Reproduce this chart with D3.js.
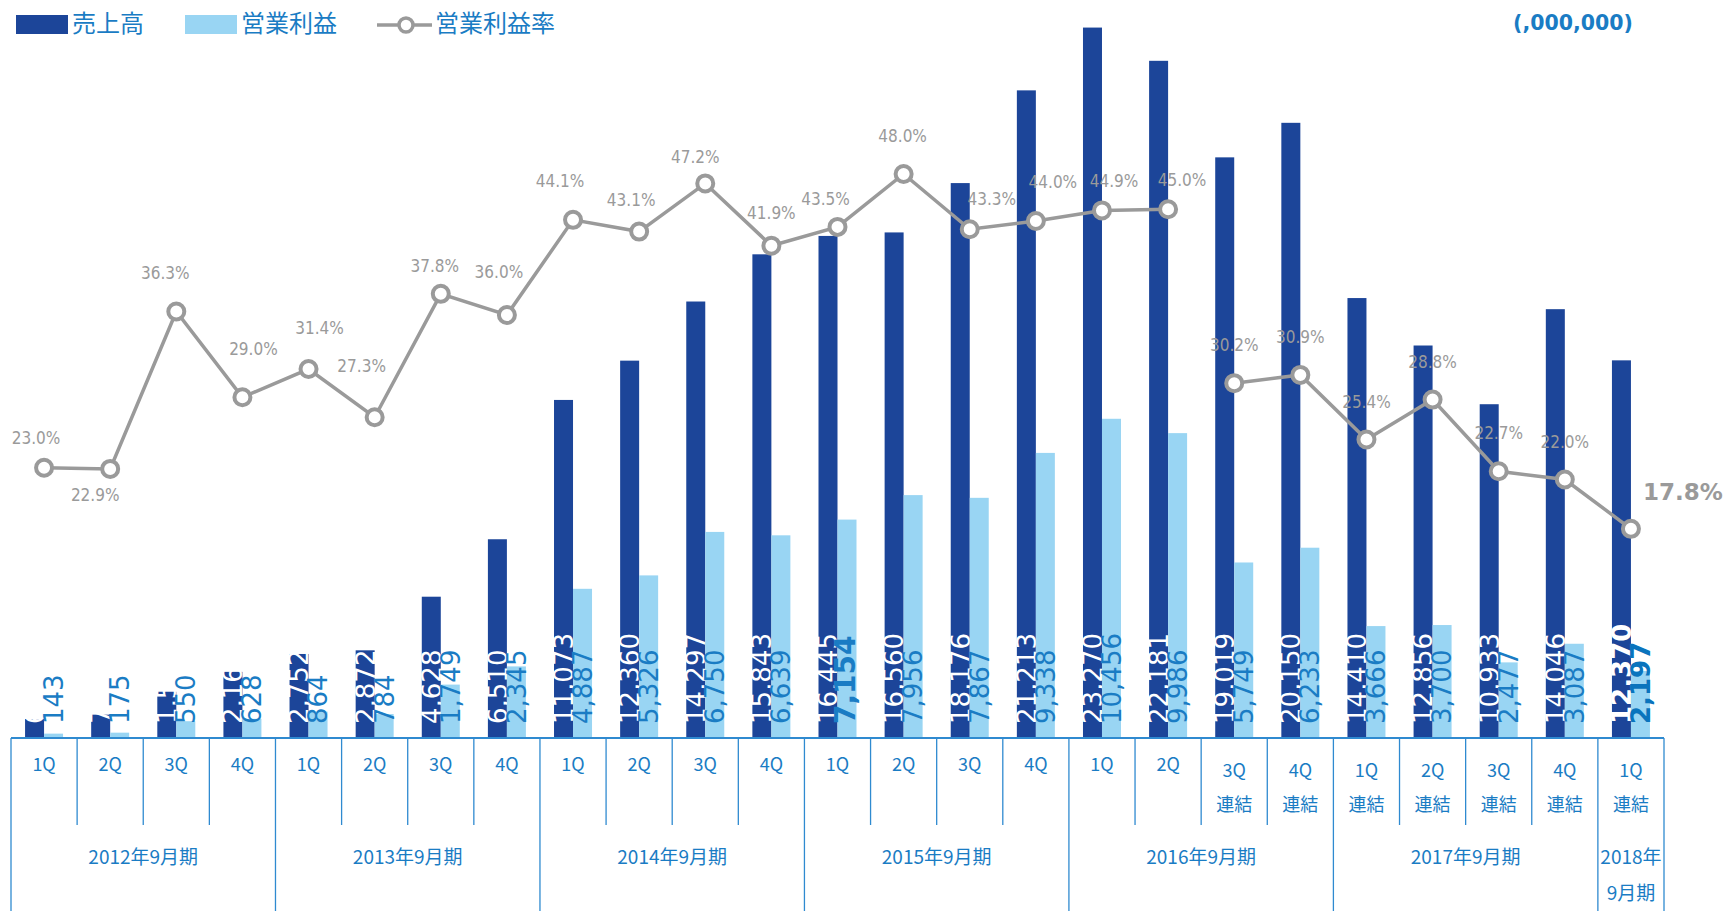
<!DOCTYPE html>
<html>
<head>
<meta charset="utf-8">
<script src="https://cdn.jsdelivr.net/npm/d3@7"></script>
<style>
  body { margin: 0; background: #fff; }
  svg { display: block; }
</style>
</head>
<body>
<svg id="chart" width="1727" height="911"></svg>
<script>
// quarter labels along the bottom
const quarters = ["1Q","2Q","3Q","4Q","1Q","2Q","3Q","4Q","1Q","2Q","3Q","4Q",
  "1Q","2Q","3Q","4Q","1Q","2Q","3Q","4Q","1Q","2Q","3Q","4Q","1Q"];
// 1 = consolidated figures (連結)
const consolidated = [0,0,0,0,0,0,0,0,0,0,0,0,0,0,0,0,0,0,1,1,1,1,1,1,1];
// fiscal year groups and how many quarters each one holds
const fiscalYears = ["2012年9月期","2013年9月期","2014年9月期","2015年9月期","2016年9月期","2017年9月期","2018年9月期"];
const yearSpans = [4,4,4,4,4,4,1];

// 売上高 (sales), 営業利益 (operating profit), 営業利益率 (%)
const sales = [622,764,1515,2166,2752,2872,4628,6510,11073,12360,14297,15843,
  16445,16560,18176,21213,23270,22181,19019,20150,14410,12856,10933,14046,12370];
const profit = [143,175,550,628,864,784,1749,2345,4887,5326,6750,6639,
  7154,7956,7867,9338,10456,9986,5749,6233,3666,3700,2477,3087,2197];
const marginRate = [23.0,22.9,36.3,29.0,31.4,27.3,37.8,36.0,44.1,43.1,47.2,41.9,
  43.5,48.0,43.3,44.0,44.9,45.0,30.2,30.9,25.4,28.8,22.7,22.0,17.8];

// label nudges for the % labels (dx, dy from the marker)
const rateLabelNudge = [[-8,-29],[-15,27],[-11,-37],[11,-47],[11,-40],[-13,-50],[-6,-27],[-8,-42],
  [-13,-38],[-8,-31],[-10,-25],[0,-32],[-12,-27],[-1,-37],[22,-29],[17,-38],[12,-28],[14,-28],
  [0,-37],[0,-37],[0,-37],[0,-37],[0,-37],[0,-37],[52,-35]];
// bar labels that are bold in the original
const boldSales = [24];
const boldProfit = [12, 24];

const DARK = "#1c4599", LIGHT = "#99d5f3", GREY = "#9a9a9a", BLUE = "#1a7cc4";
const JP = "'Noto Sans CJK JP', sans-serif";
const NUM = "'DejaVu Sans', sans-serif";

const svg = d3.select("#chart");
const baseY = 738, left = 11, right = 1664;

let x = d3.scaleBand().domain(d3.range(quarters.length)).range([left, right]).padding(0);
let bw = x.bandwidth();
let cx = i => x(i) + bw / 2;
let barW = 19;

let yBar = d3.scaleLinear().domain([0, 24000]).range([baseY, baseY - 24000 * 0.03053]);
let yRate = d3.scaleLinear().domain([0, 60]).range([baseY, baseY - 60 * 11.75]);

let fmt = d3.format(",");

// dark bars (sales)
svg.append("g").selectAll("rect")
  .data(sales)
  .enter().append("rect")
  .attr("x", (d, i) => cx(i) - barW)
  .attr("y", d => yBar(d))
  .attr("width", barW)
  .attr("height", d => baseY - yBar(d))
  .attr("fill", DARK);

// white labels for sales
svg.append("g").selectAll("text")
  .data(sales)
  .enter().append("text")
  .attr("transform", (d, i) => "translate(" + (cx(i) - barW / 2) + "," + (baseY - 14) + ") rotate(-90)")
  .attr("dy", "0.36em")
  .attr("font-family", NUM)
  .attr("font-size", 26)
  .attr("font-weight", (d, i) => boldSales.includes(i) ? "bold" : "normal")
  .attr("fill", "#fff")
  .text(d => fmt(d));

// light bars (profit) drawn over the overflow of the white labels
svg.append("g").selectAll("rect")
  .data(profit)
  .enter().append("rect")
  .attr("x", (d, i) => cx(i))
  .attr("y", d => yBar(d))
  .attr("width", barW)
  .attr("height", d => baseY - yBar(d))
  .attr("fill", LIGHT);

svg.append("g").selectAll("text")
  .data(profit)
  .enter().append("text")
  .attr("transform", (d, i) => "translate(" + (cx(i) + barW / 2 - (i === 12 ? 2 : 0)) + "," + (baseY - 14) + ") rotate(-90)")
  .attr("dy", "0.36em")
  .attr("font-family", NUM)
  .attr("font-size", (d, i) => i === 12 ? 28 : 26)
  .attr("font-weight", (d, i) => boldProfit.includes(i) ? "bold" : "normal")
  .attr("fill", (d, i) => i === 24 ? "#0a74bd" : BLUE)
  .text(d => fmt(d));

// margin line: non-consolidated and consolidated parts are not joined
let line = d3.line().x(d => cx(d.i)).y(d => yRate(d.v));
let pts = marginRate.map((v, i) => ({ v: v, i: i, c: consolidated[i] }));
[0, 1].forEach(c => {
  svg.append("path")
    .datum(pts.filter(p => p.c === c))
    .attr("d", line)
    .attr("fill", "none")
    .attr("stroke", GREY)
    .attr("stroke-width", 3.5);
});

svg.append("g").selectAll("circle")
  .data(pts)
  .enter().append("circle")
  .attr("cx", d => cx(d.i))
  .attr("cy", d => yRate(d.v))
  .attr("r", 8)
  .attr("fill", "#fff")
  .attr("stroke", GREY)
  .attr("stroke-width", 4);

svg.append("g").selectAll("text")
  .data(pts)
  .enter().append("text")
  .attr("x", d => cx(d.i) + rateLabelNudge[d.i][0])
  .attr("y", d => yRate(d.v) + rateLabelNudge[d.i][1])
  .attr("text-anchor", "middle")
  .attr("dominant-baseline", "middle")
  .attr("font-family", d => d.i === 24 ? NUM : "'DejaVu Sans Condensed', 'DejaVu Sans', sans-serif")
  .attr("font-size", d => d.i === 24 ? 23 : 17)
  .attr("font-weight", d => d.i === 24 ? "bold" : "normal")
  .attr("fill", GREY)
  .text(d => d.v.toFixed(1) + "%");

// category table under the plot
let axis = svg.append("g").attr("stroke", "#2f8ad0").attr("stroke-width", 1.3);
axis.append("line")
  .attr("x1", left).attr("x2", right)
  .attr("y1", baseY).attr("y2", baseY)
  .attr("stroke-width", 2);

let yearStarts = [];
yearSpans.reduce((acc, n) => { yearStarts.push(acc); return acc + n; }, 0);

d3.range(quarters.length + 1).forEach(k => {
  let xx = k < quarters.length ? x(k) : right;
  let full = k === quarters.length || yearStarts.includes(k);
  axis.append("line")
    .attr("x1", xx).attr("x2", xx)
    .attr("y1", baseY).attr("y2", full ? 911 : 825);
});

let qLabels = svg.append("g")
  .attr("font-family", JP)
  .attr("font-size", 18)
  .attr("fill", BLUE)
  .attr("text-anchor", "middle");

quarters.forEach((q, i) => {
  if (consolidated[i]) {
    qLabels.append("text").attr("x", cx(i)).attr("y", 771).attr("dy", "0.35em").text(q);
    qLabels.append("text").attr("x", cx(i)).attr("y", 805).attr("dy", "0.35em").text("連結");
  } else {
    qLabels.append("text").attr("x", cx(i)).attr("y", 765).attr("dy", "0.35em").text(q);
  }
});

let yLabels = svg.append("g")
  .attr("font-family", JP)
  .attr("font-size", 19)
  .attr("fill", BLUE)
  .attr("text-anchor", "middle");

fiscalYears.forEach((fy, j) => {
  let s = yearStarts[j], n = yearSpans[j];
  let mid = x(s) + n * bw / 2;
  if (n === 1) {
    // too narrow: wraps onto two lines
    yLabels.append("text").attr("x", mid).attr("y", 857).attr("dy", "0.35em").text(fy.slice(0, 5));
    yLabels.append("text").attr("x", mid).attr("y", 893).attr("dy", "0.35em").text(fy.slice(5));
  } else {
    yLabels.append("text").attr("x", mid).attr("y", 857).attr("dy", "0.35em").text(fy);
  }
});

// legend
let legend = svg.append("g")
  .attr("font-family", JP)
  .attr("font-size", 24)
  .attr("fill", BLUE);
legend.append("rect").attr("x", 16).attr("y", 15).attr("width", 52).attr("height", 19).attr("fill", DARK);
legend.append("text").attr("x", 72).attr("y", 24).attr("dy", "0.35em").text("売上高");
legend.append("rect").attr("x", 185).attr("y", 15).attr("width", 52).attr("height", 19).attr("fill", LIGHT);
legend.append("text").attr("x", 241).attr("y", 24).attr("dy", "0.35em").text("営業利益");
legend.append("line").attr("x1", 377).attr("x2", 432).attr("y1", 25).attr("y2", 25)
  .attr("stroke", GREY).attr("stroke-width", 3.5);
legend.append("circle").attr("cx", 406).attr("cy", 25).attr("r", 7)
  .attr("fill", "#fff").attr("stroke", GREY).attr("stroke-width", 3.5);
legend.append("text").attr("x", 435).attr("y", 24).attr("dy", "0.35em").text("営業利益率");

// unit note
svg.append("text")
  .attr("x", 1633).attr("y", 23).attr("dy", "0.35em")
  .attr("text-anchor", "end")
  .attr("font-family", NUM)
  .attr("font-size", 20.5)
  .attr("font-weight", "bold")
  .attr("fill", BLUE)
  .text("(,000,000)");
</script>
</body>
</html>
